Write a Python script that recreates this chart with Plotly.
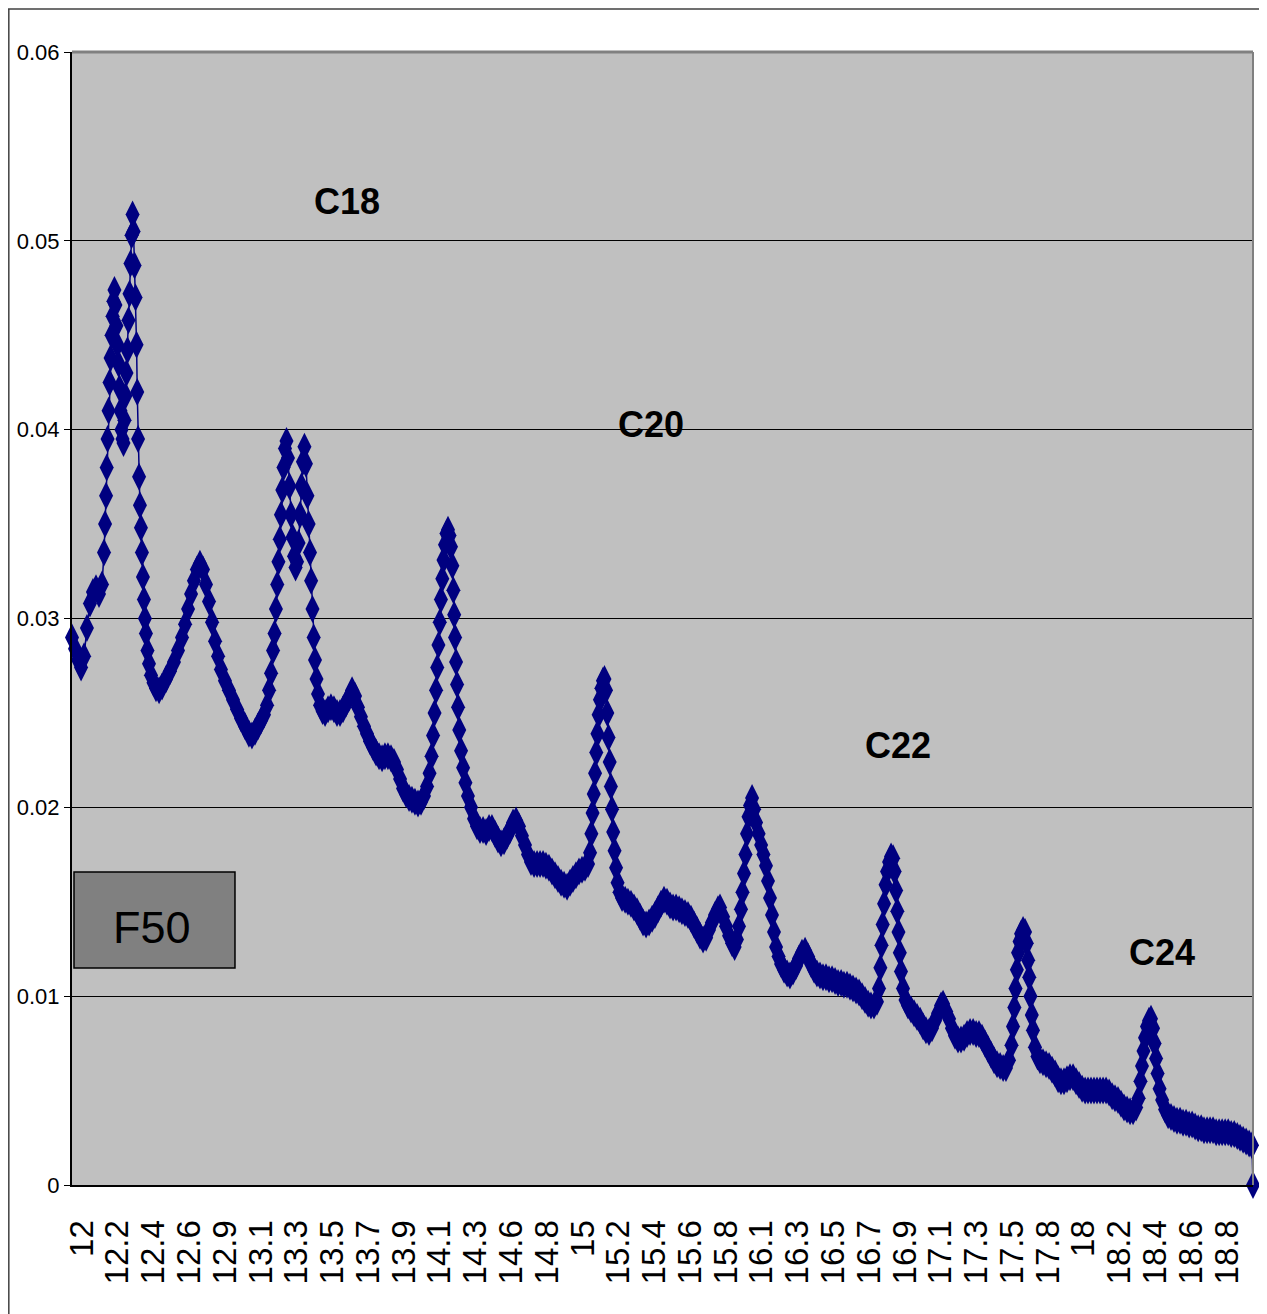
import plotly.graph_objects as go

# Retention time (min) and detector signal
time_min = [
    12.000, 12.018, 12.036, 12.054, 12.072, 12.089, 12.107, 12.125, 12.143, 12.161, 12.179,
    12.191, 12.197, 12.203, 12.207, 12.212, 12.218, 12.224, 12.230, 12.236, 12.242, 12.247,
    12.253, 12.259, 12.265, 12.271, 12.277, 12.283, 12.289, 12.295, 12.301, 12.307, 12.313,
    12.319, 12.325, 12.331, 12.337, 12.343, 12.349, 12.355, 12.361, 12.367, 12.373, 12.379,
    12.385, 12.389, 12.394, 12.400, 12.405, 12.411, 12.417, 12.423, 12.429, 12.435, 12.441,
    12.450, 12.459, 12.471, 12.486, 12.501, 12.519, 12.537, 12.561, 12.584, 12.608, 12.632,
    12.656, 12.674, 12.692, 12.710, 12.727, 12.745, 12.763, 12.781, 12.799, 12.817, 12.835,
    12.853, 12.871, 12.888, 12.912, 12.936, 12.960, 12.984, 13.008, 13.032, 13.055, 13.073,
    13.091, 13.109, 13.127, 13.145, 13.163, 13.175, 13.187, 13.199, 13.208, 13.216, 13.224,
    13.231, 13.239, 13.246, 13.254, 13.261, 13.270, 13.279, 13.288, 13.297, 13.306, 13.315,
    13.324, 13.333, 13.342, 13.351, 13.360, 13.368, 13.377, 13.386, 13.395, 13.404, 13.411,
    13.419, 13.426, 13.434, 13.441, 13.449, 13.458, 13.467, 13.479, 13.494, 13.509, 13.527,
    13.544, 13.562, 13.580, 13.598, 13.616, 13.634, 13.652, 13.670, 13.688, 13.705, 13.723,
    13.741, 13.759, 13.777, 13.795, 13.813, 13.831, 13.849, 13.866, 13.884, 13.902, 13.920,
    13.938, 13.956, 13.974, 13.992, 14.010, 14.027, 14.045, 14.063, 14.081, 14.099, 14.117,
    14.132, 14.144, 14.153, 14.162, 14.171, 14.178, 14.185, 14.193, 14.200, 14.208, 14.215,
    14.224, 14.233, 14.242, 14.251, 14.260, 14.268, 14.274, 14.279, 14.284, 14.290, 14.296,
    14.302, 14.309, 14.320, 14.332, 14.346, 14.361, 14.379, 14.397, 14.415, 14.433, 14.451,
    14.469, 14.487, 14.504, 14.522, 14.540, 14.558, 14.576, 14.594, 14.612, 14.630, 14.648,
    14.665, 14.683, 14.701, 14.719, 14.737, 14.755, 14.773, 14.791, 14.809, 14.826, 14.844,
    14.862, 14.880, 14.898, 14.916, 14.934, 14.952, 14.970, 14.987, 15.005, 15.023, 15.041,
    15.059, 15.077, 15.089, 15.097, 15.104, 15.111, 15.119, 15.126, 15.133, 15.140, 15.148,
    15.157, 15.166, 15.175, 15.184, 15.192, 15.199, 15.206, 15.213, 15.220, 15.227, 15.235,
    15.244, 15.253, 15.265, 15.280, 15.298, 15.315, 15.333, 15.351, 15.369, 15.387, 15.405,
    15.423, 15.441, 15.459, 15.476, 15.494, 15.512, 15.530, 15.548, 15.566, 15.584, 15.602,
    15.620, 15.637, 15.655, 15.673, 15.691, 15.709, 15.727, 15.745, 15.763, 15.781, 15.798,
    15.816, 15.834, 15.852, 15.864, 15.882, 15.900, 15.918, 15.936, 15.951, 15.965, 15.977,
    15.989, 15.998, 16.007, 16.016, 16.025, 16.034, 16.043, 16.055, 16.067, 16.079, 16.094,
    16.109, 16.123, 16.138, 16.150, 16.162, 16.174, 16.186, 16.198, 16.213, 16.228, 16.246,
    16.264, 16.281, 16.299, 16.317, 16.335, 16.353, 16.371, 16.389, 16.407, 16.425, 16.442,
    16.460, 16.478, 16.496, 16.514, 16.532, 16.550, 16.568, 16.586, 16.603, 16.621, 16.639,
    16.657, 16.675, 16.693, 16.711, 16.729, 16.747, 16.764, 16.782, 16.800, 16.812, 16.820,
    16.827, 16.834, 16.842, 16.851, 16.860, 16.872, 16.884, 16.896, 16.905, 16.914, 16.921,
    16.928, 16.936, 16.943, 16.955, 16.970, 16.985, 17.003, 17.021, 17.039, 17.057, 17.075,
    17.092, 17.110, 17.128, 17.146, 17.164, 17.182, 17.194, 17.212, 17.230, 17.247, 17.265,
    17.283, 17.301, 17.319, 17.337, 17.355, 17.373, 17.391, 17.408, 17.426, 17.444, 17.462,
    17.480, 17.498, 17.516, 17.534, 17.552, 17.569, 17.587, 17.602, 17.611, 17.619, 17.626,
    17.634, 17.641, 17.650, 17.659, 17.671, 17.683, 17.693, 17.701, 17.708, 17.715, 17.723,
    17.730, 17.742, 17.757, 17.772, 17.790, 17.808, 17.826, 17.844, 17.862, 17.880, 17.897,
    17.915, 17.933, 17.951, 17.969, 17.987, 18.005, 18.023, 18.041, 18.058, 18.076, 18.094,
    18.112, 18.130, 18.148, 18.166, 18.184, 18.202, 18.219, 18.237, 18.255, 18.273, 18.291,
    18.309, 18.327, 18.345, 18.360, 18.371, 18.380, 18.389, 18.398, 18.410, 18.422, 18.434,
    18.446, 18.455, 18.464, 18.473, 18.485, 18.500, 18.518, 18.536, 18.553, 18.571, 18.589,
    18.607, 18.625, 18.643, 18.661, 18.679, 18.697, 18.715, 18.733, 18.750, 18.768, 18.786,
    18.804, 18.822, 18.840, 18.858, 18.876, 18.894, 18.912, 18.930, 18.948, 18.965, 18.983,
    19.001, 19.019, 19.036, 19.042,
]

signal = [
    0.0290, 0.0284, 0.0278, 0.0274, 0.0280, 0.0295, 0.0308, 0.0314, 0.0316, 0.0313, 0.0318,
    0.0335, 0.0350, 0.0365, 0.0380, 0.0395, 0.0410, 0.0425, 0.0438, 0.0450, 0.0460, 0.0468,
    0.0474, 0.0466, 0.0455, 0.0445, 0.0435, 0.0422, 0.0410, 0.0400, 0.0395, 0.0393, 0.0405,
    0.0418, 0.0430, 0.0442, 0.0458, 0.0472, 0.0488, 0.0503, 0.0514, 0.0505, 0.0487, 0.0470,
    0.0445, 0.0420, 0.0395, 0.0375, 0.0360, 0.0348, 0.0335, 0.0322, 0.0310, 0.0300, 0.0292,
    0.0283, 0.0276, 0.0270, 0.0266, 0.0263, 0.0262, 0.0264, 0.0268, 0.0272, 0.0277, 0.0283,
    0.0290, 0.0297, 0.0305, 0.0313, 0.0320, 0.0326, 0.0329, 0.0326, 0.0318, 0.0309, 0.0298,
    0.0288, 0.0280, 0.0273, 0.0267, 0.0262, 0.0257, 0.0252, 0.0247, 0.0243, 0.0239, 0.0238,
    0.0240, 0.0243, 0.0246, 0.0249, 0.0254, 0.0262, 0.0271, 0.0283, 0.0292, 0.0305, 0.0318,
    0.0330, 0.0342, 0.0355, 0.0368, 0.0380, 0.0390, 0.0394, 0.0385, 0.0370, 0.0355, 0.0343,
    0.0333, 0.0327, 0.0330, 0.0340, 0.0355, 0.0370, 0.0383, 0.0391, 0.0382, 0.0365, 0.0350,
    0.0335, 0.0320, 0.0305, 0.0290, 0.0278, 0.0268, 0.0260, 0.0254, 0.0251, 0.0250, 0.0252,
    0.0253, 0.0252, 0.0250, 0.0250, 0.0252, 0.0255, 0.0258, 0.0262, 0.0259, 0.0253, 0.0248,
    0.0243, 0.0239, 0.0235, 0.0232, 0.0229, 0.0227, 0.0226, 0.0227, 0.0227, 0.0226, 0.0224,
    0.0220, 0.0215, 0.0210, 0.0207, 0.0205, 0.0204, 0.0203, 0.0202, 0.0203, 0.0206, 0.0211,
    0.0218, 0.0227, 0.0238, 0.0250, 0.0262, 0.0274, 0.0286, 0.0298, 0.0310, 0.0321, 0.0331,
    0.0339, 0.0345, 0.0347, 0.0344, 0.0338, 0.0328, 0.0315, 0.0302, 0.0290, 0.0277, 0.0265,
    0.0253, 0.0241, 0.0230, 0.0221, 0.0213, 0.0206, 0.0200, 0.0194, 0.0190, 0.0188, 0.0188,
    0.0187, 0.0189, 0.0189, 0.0186, 0.0183, 0.0181, 0.0182, 0.0185, 0.0188, 0.0192, 0.0193,
    0.0190, 0.0185, 0.0180, 0.0175, 0.0171, 0.0170, 0.0170, 0.0170, 0.0170, 0.0169, 0.0168,
    0.0166, 0.0164, 0.0162, 0.0160, 0.0159, 0.0158, 0.0160, 0.0162, 0.0164, 0.0166, 0.0167,
    0.0168, 0.0170, 0.0176, 0.0186, 0.0197, 0.0207, 0.0218, 0.0229, 0.0239, 0.0249, 0.0257,
    0.0263, 0.0267, 0.0268, 0.0262, 0.0250, 0.0237, 0.0224, 0.0211, 0.0199, 0.0187, 0.0177,
    0.0168, 0.0160, 0.0155, 0.0152, 0.0151, 0.0150, 0.0149, 0.0147, 0.0145, 0.0142, 0.0139,
    0.0138, 0.0139, 0.0141, 0.0143, 0.0146, 0.0149, 0.0151, 0.0150, 0.0148, 0.0147, 0.0147,
    0.0146, 0.0145, 0.0144, 0.0143, 0.0141, 0.0138, 0.0135, 0.0132, 0.0130, 0.0131, 0.0135,
    0.0139, 0.0143, 0.0146, 0.0147, 0.0142, 0.0137, 0.0132, 0.0128, 0.0126, 0.0130, 0.0137,
    0.0146, 0.0155, 0.0165, 0.0175, 0.0186, 0.0195, 0.0201, 0.0205, 0.0199, 0.0192, 0.0186,
    0.0180, 0.0175, 0.0169, 0.0161, 0.0152, 0.0143, 0.0134, 0.0126, 0.0121, 0.0117, 0.0114,
    0.0112, 0.0111, 0.0113, 0.0116, 0.0120, 0.0123, 0.0124, 0.0121, 0.0117, 0.0114, 0.0112,
    0.0111, 0.0110, 0.0110, 0.0109, 0.0109, 0.0108, 0.0107, 0.0107, 0.0106, 0.0106, 0.0105,
    0.0104, 0.0103, 0.0102, 0.0100, 0.0098, 0.0096, 0.0095, 0.0095, 0.0097, 0.0104, 0.0115,
    0.0127, 0.0138, 0.0149, 0.0159, 0.0166, 0.0171, 0.0174, 0.0173, 0.0166, 0.0156, 0.0145,
    0.0134, 0.0123, 0.0113, 0.0104, 0.0098, 0.0095, 0.0093, 0.0091, 0.0089, 0.0087, 0.0084,
    0.0082, 0.0081, 0.0083, 0.0087, 0.0091, 0.0095, 0.0096, 0.0092, 0.0088, 0.0083, 0.0079,
    0.0077, 0.0077, 0.0078, 0.0080, 0.0081, 0.0081, 0.0080, 0.0080, 0.0078, 0.0075, 0.0072,
    0.0069, 0.0066, 0.0064, 0.0063, 0.0062, 0.0062, 0.0066, 0.0074, 0.0084, 0.0094, 0.0104,
    0.0114, 0.0123, 0.0129, 0.0133, 0.0135, 0.0134, 0.0128, 0.0119, 0.0110, 0.0100, 0.0090,
    0.0082, 0.0073, 0.0068, 0.0066, 0.0065, 0.0064, 0.0063, 0.0061, 0.0059, 0.0056, 0.0055,
    0.0055, 0.0056, 0.0057, 0.0057, 0.0055, 0.0053, 0.0051, 0.0050, 0.0050, 0.0050, 0.0050,
    0.0050, 0.0050, 0.0050, 0.0050, 0.0049, 0.0047, 0.0046, 0.0045, 0.0043, 0.0041, 0.0040,
    0.0039, 0.0039, 0.0041, 0.0046, 0.0055, 0.0063, 0.0071, 0.0078, 0.0084, 0.0087, 0.0088,
    0.0083, 0.0075, 0.0067, 0.0059, 0.0051, 0.0045, 0.0040, 0.0037, 0.0036, 0.0035, 0.0034,
    0.0034, 0.0033, 0.0033, 0.0032, 0.0032, 0.0031, 0.0030, 0.0030, 0.0029, 0.0029, 0.0029,
    0.0029, 0.0028, 0.0028, 0.0028, 0.0028, 0.0028, 0.0027, 0.0027, 0.0026, 0.0025, 0.0024,
    0.0023, 0.0022, 0.0021, 0.0000,
]

# Category axis labels (one label every 64 samples of 0.2 s)
tick_labels = ["12", "12.2", "12.4", "12.6", "12.9", "13.1", "13.3", "13.5", "13.7", "13.9",
               "14.1", "14.3", "14.6", "14.8", "15", "15.2", "15.4", "15.6", "15.8", "16.1",
               "16.3", "16.5", "16.7", "16.9", "17.1", "17.3", "17.5", "17.8", "18", "18.2",
               "18.4", "18.6", "18.8"]
sample_step_min = 0.2 / 60.0
label_every = 64
tick_vals = [12.0 + i * label_every * sample_step_min for i in range(len(tick_labels))]

peak_names = ["C18", "C20", "C22", "C24"]
peak_label_time = [13.640, 15.453, 16.925, 18.500]
peak_label_level = [0.0521, 0.0403, 0.0233, 0.0123]

sample_name = "F50"

NAVY = "#000080"

fig = go.Figure()
fig.add_trace(go.Scatter(
    x=time_min, y=signal, mode="lines+markers",
    line=dict(color=NAVY, width=1.5),
    marker=dict(symbol="diamond-tall", size=20, color=NAVY, line=dict(width=0)),
    cliponaxis=False, showlegend=False, hoverinfo="skip",
))

for name, t, lv in zip(peak_names, peak_label_time, peak_label_level):
    fig.add_annotation(x=t, y=lv, text="<b>%s</b>" % name, showarrow=False,
                       xanchor="center", yanchor="middle",
                       font=dict(family="Liberation Sans, Arial", size=36, color="black"))

# sample label box
fig.add_shape(type="rect", xref="paper", yref="paper", x0=0.0017, x1=0.138, y0=0.1915, y1=0.2763,
              fillcolor="#808080", line=dict(color="black", width=1.5), layer="above")
fig.add_annotation(xref="paper", yref="paper", x=0.0677, y=0.227, text=sample_name, showarrow=False,
                   xanchor="center", yanchor="middle",
                   font=dict(family="Liberation Sans, Arial", size=45, color="black"))

# plot-area frame (top and right edges)
fig.add_shape(type="line", xref="paper", yref="paper", x0=0, x1=1, y0=1, y1=1,
              line=dict(color="#808080", width=3), layer="above")
fig.add_shape(type="line", xref="paper", yref="paper", x0=1, x1=1, y0=0, y1=1,
              line=dict(color="#808080", width=2), layer="above")

# chart-area border (top and left)
fig.add_shape(type="line", xref="paper", yref="paper", x0=-0.06, x1=1.03, y0=1.0380, y1=1.0380,
              line=dict(color="#404040", width=1.5))
fig.add_shape(type="line", xref="paper", yref="paper", x0=-0.0535, x1=-0.0535, y0=-0.2, y1=1.0380,
              line=dict(color="#404040", width=1.5))

fig.update_layout(
    width=1267, height=1314,
    margin=dict(l=64, r=22, t=44, b=137, autoexpand=False),
    paper_bgcolor="white", plot_bgcolor="#C0C0C0",
    font=dict(family="Liberation Sans, Arial", color="black"),
    xaxis=dict(range=[12.0, time_min[-1]], tickmode="array", tickvals=tick_vals, ticktext=tick_labels,
               tickangle=-90, showgrid=False, zeroline=False, showline=True, linecolor="black",
               linewidth=2, ticks="", tickfont=dict(size=33, family="Liberation Sans, Arial"),
               ticklabelstandoff=20, ticklabelshift=10, automargin=False),
    yaxis=dict(range=[0, 0.06], tickvals=[0, 0.01, 0.02, 0.03, 0.04, 0.05, 0.06],
               ticktext=["0", "0.01", "0.02", "0.03", "0.04", "0.05", "0.06"],
               showgrid=True, gridcolor="black", gridwidth=1.2, zeroline=False,
               showline=True, linecolor="black", linewidth=2, ticks="outside", ticklen=6,
               tickcolor="black", automargin=False,
               tickfont=dict(size=22, family="Liberation Sans, Arial")),
)

fig.write_html("out.html")
